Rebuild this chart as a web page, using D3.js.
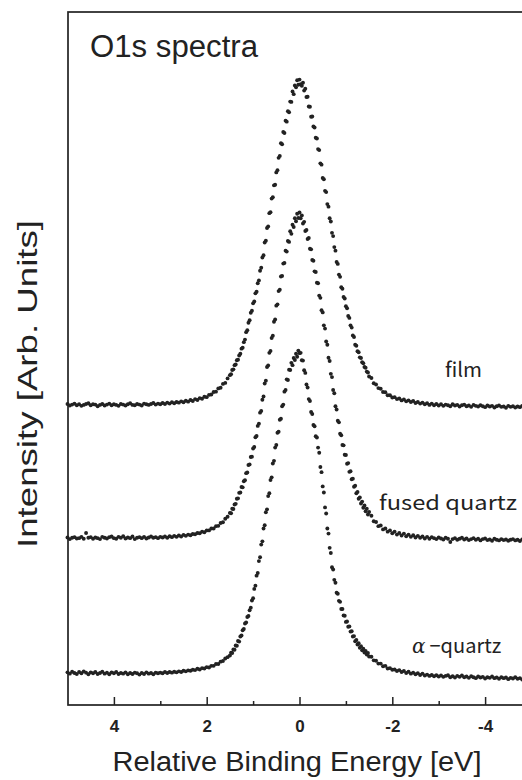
<!DOCTYPE html>
<html>
<head>
<meta charset="utf-8">
<script src="https://cdn.jsdelivr.net/npm/d3@7"></script>
<style>
  body { margin: 0; background: #fff; }
  svg { display: block; }
</style>
</head>
<body>
<div id="chart"></div>
<script>

// binding energy grid (eV): 0.05 steps in the wings, 0.025 steps across the peak
const energy = [].concat(
    d3.range(100, 30, -1).map(function(i) { return i / 20; }),
    d3.range(60, -61, -1).map(function(i) { return i / 40; }),
    d3.range(-31, -101, -1).map(function(i) { return i / 20; })
);

// intensities, peak ~ 100, each spectrum relative to its own baseline
const film = [
    0.3, -0.2, 0.1, 0.4, -0.1, 0.2, -0.3, 0.0, 0.3, 0.5,
    -0.1, 0.2, 0.1, -0.4, 0.0, 0.3, -0.2, 0.1, 0.4, -0.1,
    0.2, 0.0, -0.3, 0.3, 0.1, -0.2, 0.2, 0.5, 0.0, -0.1,
    0.3, 0.1, -0.2, 0.4, 0.2, 0.0, 0.3, 0.6, 0.1, 0.4,
    0.2, 0.6, 0.3, 0.7, 0.4, 0.8, 0.5, 0.9, 0.7, 1.1,
    0.8, 1.3, 1.0, 1.5, 1.2, 1.8, 1.5, 2.1, 1.9, 2.5,
    2.4, 3.1, 3.2, 4.0, 4.1, 5.1, 5.3, 6.5, 6.8, 8.2,
    // peak
    9.2, 9.5, 10.8, 11.0, 12.3, 12.5, 13.8, 14.0, 15.3, 15.8,
    17.4, 17.7, 19.4, 20.2, 22.5, 23.1, 25.4, 26.2, 28.5, 29.1,
    31.4, 32.0, 34.5, 35.0, 37.6, 38.5, 41.5, 42.4, 45.6, 46.3,
    50.2, 50.8, 54.7, 55.2, 59.3, 59.6, 63.8, 64.2, 67.9, 68.1,
    71.9, 72.6, 76.4, 77.0, 80.9, 80.6, 84.4, 84.1, 87.9, 87.6,
    90.8, 90.5, 93.8, 93.7, 96.9, 96.1, 98.8, 98.2, 100.4, 99.0,
    100.6,
    99.2, 98.7, 99.6, 97.2, 97.8, 95.2, 95.3, 92.3, 92.2, 89.1,
    89.2, 86.1, 85.8, 82.6, 82.4, 79.1, 78.8, 74.7, 74.3, 70.2,
    69.8, 66.2, 65.8, 62.1, 61.3, 57.7, 56.7, 53.2, 52.2, 48.8,
    47.7, 44.2, 43.6, 40.3, 39.6, 36.4, 35.9, 33.4, 32.9, 30.5,
    29.9, 27.5, 26.9, 24.6, 23.9, 21.5, 21.0, 18.6, 18.3, 16.6,
    16.3, 14.7, 14.5, 13.2, 12.9, 11.7, 11.5, 10.3, 10.0, 8.8,
    // right wing
    8.3, 6.7, 6.3, 5.2, 5.0, 4.0, 3.9, 3.0, 3.0, 2.3,
    2.4, 1.8, 2.0, 1.4, 1.7, 1.1, 1.4, 0.9, 1.2, 0.6,
    0.9, 0.4, 0.7, 0.2, 0.5, 0.0, 0.4, -0.1, 0.3, -0.2,
    0.2, -0.3, 0.1, -0.1, -0.4, 0.2, -0.2, 0.0, -0.5, -0.1,
    0.1, -0.4, -0.2, -0.6, 0.0, -0.3, -0.5, -0.1, -0.4, -0.7,
    -0.2, -0.5, -0.3, -0.8, -0.4, -0.2, -0.6, -0.5, -0.9, -0.3,
    -0.6, -0.4, -0.8, -0.5, -0.7, -0.3, -0.6, -0.9, -0.5, -0.7
];

const fused = [
    0.2, -0.3, 0.1, 0.3, -0.1, 0.0, 0.4, -0.2, 1.6, 0.1,
    0.3, -0.2, 0.2, 0.0, -0.3, 0.4, 0.1, -0.1, 0.3, 0.5,
    0.0, -0.2, 0.4, 0.1, 0.6, -0.1, 0.2, 0.0, 0.5, -0.3,
    0.1, 0.3, 0.0, 0.4, -0.1, 0.2, 0.5, 0.1, 0.3, 0.0,
    0.4, 0.2, 0.5, 0.1, 0.6, 0.3, 0.7, 0.4, 0.8, 0.5,
    1.0, 0.7, 1.1, 0.9, 1.3, 1.2, 1.6, 1.5, 2.0, 1.8,
    2.4, 2.4, 3.0, 3.0, 3.7, 3.8, 4.7, 4.9, 6.0, 6.6,
    // peak
    7.8, 7.7, 9.1, 9.0, 10.4, 10.6, 12.2, 12.3, 14.0, 14.1,
    15.8, 15.7, 17.6, 17.9, 20.1, 20.3, 22.6, 22.8, 25.1, 25.2,
    27.7, 28.2, 31.2, 31.6, 34.7, 35.4, 38.8, 39.3, 42.8, 43.8,
    47.8, 48.7, 52.9, 53.4, 57.3, 57.9, 61.9, 62.6, 66.9, 67.6,
    71.9, 72.3, 76.4, 76.8, 80.9, 81.1, 84.9, 85.1, 88.9, 88.6,
    91.9, 91.6, 94.9, 94.1, 96.9, 96.2, 98.9, 98.0, 100.3, 99.0,
    100.7,
    98.9, 99.8, 97.3, 97.8, 95.0, 95.3, 92.5, 92.8, 89.5, 89.3,
    86.0, 85.8, 82.5, 82.3, 79.0, 78.8, 75.0, 74.3, 70.5, 69.8,
    65.8, 64.8, 60.8, 59.8, 55.8, 54.8, 50.8, 49.8, 45.8, 44.8,
    40.8, 39.8, 36.3, 35.8, 32.3, 31.8, 28.8, 28.7, 25.8, 25.7,
    23.0, 23.2, 20.5, 20.7, 18.2, 18.4, 15.9, 16.2, 13.9, 14.3,
    12.2, 12.6, 10.7, 11.3, 9.4, 10.1, 8.3, 9.1, 7.3, 8.1,
    // right wing
    6.9, 5.2, 5.0, 3.7, 3.9, 2.7, 3.0, 2.0, 2.4, 1.5,
    2.0, 1.1, 1.6, 0.8, 1.4, 0.6, 1.1, 0.4, 0.9, 0.2,
    0.7, 0.1, 0.5, -0.1, 0.4, -0.2, 0.3, 0.0, -0.3, 0.2,
    -0.1, -0.4, 0.1, -0.2, -1.2, -0.3, 0.0, -0.5, -0.2, 0.1,
    -0.4, -0.1, -0.6, -0.3, 0.0, -0.5, -0.2, -0.7, -0.3, -0.1,
    -0.6, -0.4, -0.8, -0.2, -0.5, -0.7, -0.3, -0.6, -0.4, -0.8,
    -0.5, -0.3, -0.7, -0.5, -0.9, -0.4, -0.6, -0.8, -0.5, -0.7
];

const alpha = [
    0.8, 0.4, 1.0, 0.6, 0.3, 0.9, 0.5, 1.1, 0.7, 0.2,
    0.8, 0.5, 0.9, 0.3, 0.6, 1.0, 0.4, 0.7, 0.2, 0.8,
    0.5, 0.9, 0.3, 0.6, 0.4, 0.8, 0.2, 0.6, 0.3, 0.7,
    0.5, 0.1, 0.6, 0.3, 0.8, 0.4, 0.6, 0.2, 0.7, 0.5,
    0.7, 0.5, 0.9, 0.6, 0.9, 0.7, 1.0, 0.8, 1.1, 0.9,
    1.3, 1.1, 1.4, 1.3, 1.6, 1.5, 1.9, 1.7, 2.1, 2.0,
    2.4, 2.3, 2.8, 2.8, 3.4, 3.4, 4.1, 4.3, 5.1, 5.5,
    // peak
    6.0, 6.9, 6.8, 7.9, 7.8, 9.1, 9.0, 10.5, 10.3, 11.9,
    12.2, 13.8, 14.2, 15.9, 16.2, 17.9, 18.2, 20.0, 20.8, 23.0,
    23.7, 26.6, 27.6, 30.7, 31.5, 35.2, 36.4, 40.3, 41.3, 45.3,
    46.3, 50.3, 51.2, 55.3, 56.2, 60.3, 61.1, 65.4, 66.2, 70.3,
    71.1, 74.9, 75.2, 78.9, 79.2, 83.1, 83.6, 87.6, 88.1, 91.4,
    91.2, 94.4, 94.3, 96.5, 95.8, 98.0, 97.4, 99.3, 98.4, 100.3,
    99.5,
    99.6, 97.3, 97.2, 94.2, 93.4, 89.8, 88.9, 85.3, 84.7, 81.3,
    80.7, 77.3, 76.9, 73.8, 73.4, 70.3, 68.7, 64.3, 62.7, 58.3,
    56.4, 51.8, 49.9, 45.3, 43.7, 39.3, 37.7, 33.3, 32.6, 29.4,
    28.5, 25.4, 25.1, 22.9, 22.6, 20.4, 20.4, 18.4, 18.3, 16.4,
    16.5, 14.9, 15.0, 13.4, 13.5, 11.9, 12.0, 10.4, 10.8, 9.4,
    9.8, 8.4, 8.9, 7.6, 8.1, 6.9, 7.4, 6.3, 6.8, 5.7,
    // right wing
    5.6, 4.5, 4.4, 3.5, 3.5, 2.7, 2.8, 2.0, 2.1, 1.6,
    1.7, 1.2, 1.5, 0.9, 1.2, 0.6, 1.0, 0.4, 0.7, 0.2,
    0.5, 0.0, 0.4, -0.2, 0.1, -0.3, 0.0, -0.4, -0.1, -0.5,
    -0.2, -0.6, -0.3, -0.1, -0.7, -0.4, -0.8, -0.3, -0.6, -0.2,
    -0.7, -0.5, -0.9, -0.4, -0.7, -1.0, -0.5, -0.8, -0.6, -1.1,
    -0.7, -0.9, -0.5, -1.0, -0.8, -1.2, -0.7, -1.0, -0.8, -1.3,
    -0.9, -1.1, -0.7, -1.2, -1.0, -1.4, -0.9, -1.2, -1.0, -1.3
];

const seriesNames = ["film", "fused quartz", "\u2212quartz"];
const seriesOffsets = [83.5, 42.3, 0];
const xTicks = [4, 2, 0, -2, -4];
const xMinorTicks = [3, 1, -1, -3];

const width = 522, height = 780;
const ink = "#222";

const svg = d3.select("#chart")
    .append("svg")
    .attr("width", width)
    .attr("height", height);

const x = d3.scaleLinear().domain([5, -5]).range([67.5, 531.5]);
const y = d3.scaleLinear().domain([-9.3, 205]).range([705, 12]);

// frame (right side runs past the page edge)
svg.append("rect")
    .attr("x", x(5) + 0.5).attr("y", y(205))
    .attr("width", x(-5) - x(5)).attr("height", y(-9.3) - y(205))
    .attr("fill", "none")
    .attr("stroke", ink)
    .attr("stroke-width", 1.7);

// bottom axis, ticks pointing inward
const xAxis = svg.append("g")
    .attr("transform", "translate(0," + y(-9.3) + ")")
    .call(d3.axisBottom(x).tickValues(xTicks).tickSizeInner(-8).tickSizeOuter(0).tickPadding(15)
        .tickFormat(function(d) { return d3.format("d")(d).replace("\u2212", "-"); }));
xAxis.select(".domain").remove();
xAxis.selectAll(".tick line").attr("stroke", ink).attr("stroke-width", 1.5);
xAxis.selectAll(".tick text")
    .attr("fill", ink)
    .attr("font-family", "Liberation Sans, Arial, sans-serif")
    .attr("font-size", "17px")
    .attr("font-weight", "bold");

const xMinor = svg.append("g")
    .attr("transform", "translate(0," + y(-9.3) + ")")
    .call(d3.axisBottom(x).tickValues(xMinorTicks).tickSizeInner(-4).tickSizeOuter(0).tickFormat(""));
xMinor.select(".domain").remove();
xMinor.selectAll(".tick line").attr("stroke", ink).attr("stroke-width", 1.5);

// spectra
const spectra = [film, fused, alpha];
const dotsG = svg.append("g").attr("fill", ink);
spectra.forEach(function(values, s) {
    const pts = values.map(function(v, i) {
        return { e: energy[i], v: v + seriesOffsets[s] };
    });
    dotsG.append("g")
        .selectAll("circle")
        .data(pts)
        .join("circle")
        .attr("cx", function(d) { return x(d.e); })
        .attr("cy", function(d) { return y(d.v); })
        .attr("r", 1.95);
});

// series labels
const labelFont = "'Noto Sans CJK JP', 'Noto Sans', sans-serif";
svg.append("text")
    .attr("x", 445).attr("y", y(seriesOffsets[0]) - 28)
    .attr("font-family", labelFont).attr("font-size", "20px")
    .attr("textLength", 37).attr("lengthAdjust", "spacingAndGlyphs")
    .attr("fill", ink)
    .text(seriesNames[0]);

svg.append("text")
    .attr("x", 379).attr("y", y(seriesOffsets[1]) - 28)
    .attr("font-family", labelFont).attr("font-size", "20px")
    .attr("textLength", 138).attr("lengthAdjust", "spacingAndGlyphs")
    .attr("fill", ink)
    .text(seriesNames[1]);

const aLabel = svg.append("text")
    .attr("x", 412).attr("y", y(seriesOffsets[2]) - 22)
    .attr("font-family", labelFont).attr("font-size", "20px")
    .attr("fill", ink);
aLabel.append("tspan")
    .attr("font-family", "'DejaVu Serif', serif").attr("font-style", "italic")
    .text("\u03b1");
aLabel.append("tspan").attr("dx", 4).text(seriesNames[2]);

// panel title
svg.append("text")
    .attr("x", 90).attr("y", 57)
    .attr("font-family", "Liberation Sans, Arial, sans-serif")
    .attr("font-size", "31px")
    .attr("textLength", 168).attr("lengthAdjust", "spacingAndGlyphs")
    .attr("fill", ink)
    .text("O1s spectra");

// axis titles
svg.append("text")
    .attr("x", 297).attr("y", 771)
    .attr("text-anchor", "middle")
    .attr("font-family", "Liberation Sans, Arial, sans-serif")
    .attr("font-size", "27px")
    .attr("textLength", 369).attr("lengthAdjust", "spacingAndGlyphs")
    .attr("fill", ink)
    .text("Relative Binding Energy [eV]");

svg.append("text")
    .attr("transform", "translate(37,384) rotate(-90)")
    .attr("text-anchor", "middle")
    .attr("font-family", "Liberation Sans, Arial, sans-serif")
    .attr("font-size", "28px")
    .attr("textLength", 328).attr("lengthAdjust", "spacingAndGlyphs")
    .attr("fill", ink)
    .text("Intensity [Arb. Units]");

</script>
</body>
</html>
